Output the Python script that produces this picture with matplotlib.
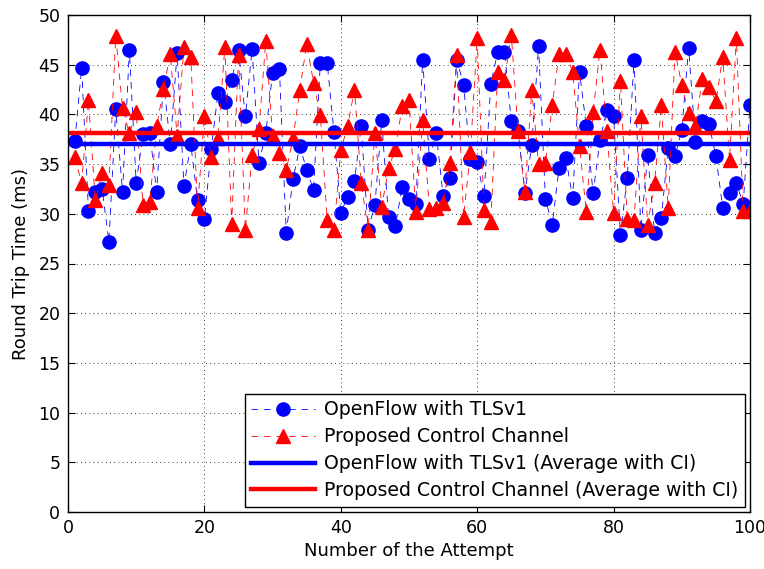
import numpy as np
import matplotlib
matplotlib.use("Agg")
import matplotlib.pyplot as plt

plt.rcParams['font.family'] = ['DejaVu Sans']

attempts = np.arange(1, 101)

openflow_rtt = [
    37.3, 44.7, 30.3, 32.2, 32.5, 27.2, 40.5, 32.2, 46.5, 33.1,
    38.0, 38.1, 32.2, 43.3, 37.0, 46.2, 32.8, 37.0, 31.4, 29.5,
    36.5, 42.2, 41.2, 43.5, 46.5, 39.8, 46.6, 35.1, 38.1, 44.2,
    44.6, 28.1, 33.5, 36.8, 34.4, 32.4, 45.2, 45.2, 38.2, 30.1,
    31.7, 33.3, 38.8, 28.4, 30.9, 39.4, 29.7, 28.8, 32.7, 31.5,
    31.0, 45.5, 35.5, 38.1, 31.8, 33.6, 45.5, 43.0, 35.5, 35.2,
    31.8, 43.1, 46.3, 46.3, 39.3, 38.3, 32.1, 36.9, 46.9, 31.5,
    28.9, 34.6, 35.6, 31.6, 44.3, 38.8, 32.1, 37.4, 40.4, 39.8,
    27.9, 33.6, 45.5, 28.4, 35.9, 28.1, 29.6, 36.6, 35.8, 38.4,
    46.7, 37.2, 39.3, 39.0, 35.8, 30.6, 32.1, 33.1, 31.0, 40.9,
]

proposed_rtt = [
    35.7, 33.1, 41.4, 31.4, 34.1, 32.9, 47.9, 40.6, 38.1, 40.2,
    30.9, 31.2, 38.8, 42.6, 46.1, 37.8, 46.8, 45.8, 30.6, 39.8,
    35.7, 37.6, 46.8, 29.0, 46.0, 28.4, 35.9, 38.5, 47.4, 37.8,
    36.1, 34.4, 37.6, 42.5, 47.1, 43.2, 39.9, 29.4, 28.4, 36.4,
    38.8, 42.5, 33.1, 28.4, 38.1, 30.7, 34.6, 36.5, 40.8, 41.4,
    30.2, 39.4, 30.5, 30.6, 31.1, 35.1, 46.0, 29.7, 36.2, 47.7,
    30.4, 29.2, 44.3, 43.5, 48.0, 38.3, 32.2, 42.5, 35.0, 35.1,
    40.9, 46.1, 46.1, 44.3, 36.8, 30.2, 40.2, 46.5, 38.3, 30.1,
    43.4, 29.5, 29.4, 39.8, 28.9, 33.1, 40.9, 30.6, 46.3, 43.0,
    40.1, 38.8, 43.6, 42.8, 41.3, 45.8, 35.4, 47.7, 30.3, 30.3,
]

openflow_avg = 37.05
proposed_avg = 38.15

labels = [
    "OpenFlow with TLSv1",
    "Proposed Control Channel",
    "OpenFlow with TLSv1 (Average with CI)",
    "Proposed Control Channel (Average with CI)",
]

fig = plt.figure(figsize=(7.64, 5.69), dpi=100)
ax = fig.add_axes([68 / 764, 57 / 569, 682 / 764, 497 / 569])

ax.plot(attempts, openflow_rtt, color='blue', linestyle=(0, (8, 7)), linewidth=0.6,
        marker='o', markersize=9.5, markerfacecolor='blue', markeredgecolor='blue',
        label=labels[0])
ax.plot(attempts, proposed_rtt, color='red', linestyle=(0, (8, 7)), linewidth=0.6,
        marker='^', markersize=10.5, markerfacecolor='red', markeredgecolor='red',
        label=labels[1])
ax.plot([0, 100], [openflow_avg, openflow_avg], color='blue', linewidth=3.2,
        label=labels[2])
ax.plot([0, 100], [proposed_avg, proposed_avg], color='red', linewidth=3.2,
        label=labels[3])

ax.set_xlim(0, 100)
ax.set_ylim(0, 50)
ax.set_xticks(np.arange(0, 101, 20))
ax.set_yticks(np.arange(0, 51, 5))
ax.grid(True, color='black', linestyle=(0, (1, 4)), linewidth=0.6)
ax.tick_params(direction='in', top=True, right=True, labelsize=12.5, length=5)
ax.tick_params(axis='y', pad=5.5)
ax.tick_params(axis='x', pad=5)
for s in ax.spines.values():
    s.set_linewidth(1.0)

ax.set_xlabel("Number of the Attempt", fontsize=13, labelpad=4)
ax.set_ylabel("Round Trip Time (ms)", fontsize=13, labelpad=6)

leg = ax.legend(loc='lower right', fontsize=13.6, numpoints=1, handlelength=3.4,
                handletextpad=0.45, fancybox=False, framealpha=1,
                edgecolor='black', borderaxespad=0.28, labelspacing=0.42,
                borderpad=0.35)
leg.get_frame().set_linewidth(1.0)

fig.savefig("out.png", dpi=100)
